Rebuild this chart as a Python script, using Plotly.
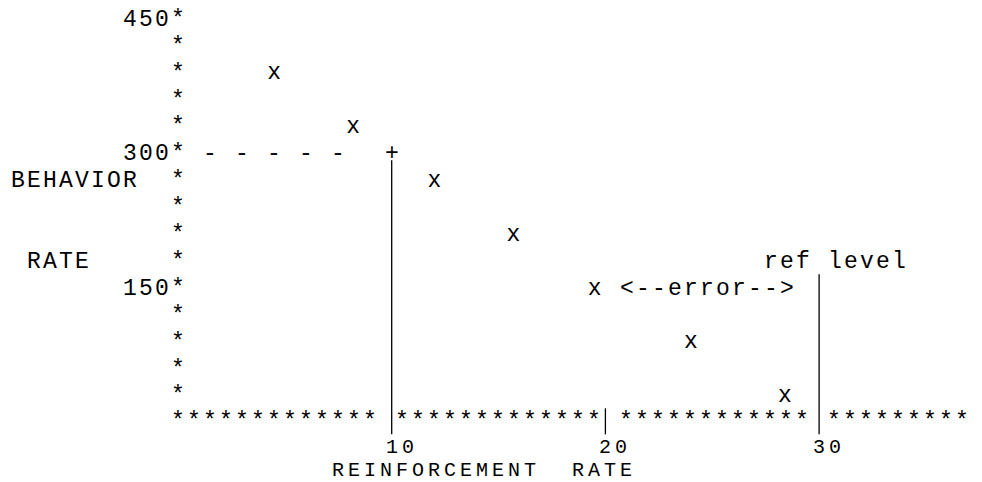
import plotly.graph_objects as go

# ---- data ----
reinforcement_rate = [4.5, 8.2, 12.0, 15.7, 19.5, 24.0, 28.4]
behavior_rate = [390, 330, 270, 210, 150, 90, 30]
x_tick_values = [10, 20, 30]
x_tick_labels = ["10", "20", "30"]
y_tick_values = [450, 300, 150]
y_tick_labels = ["450", "300", "150"]
y_row_step = 30
ref_rate = [10]          # "+" corner point
ref_behavior = [300]
level_rate = [30]        # "ref level" line
error_behavior = [150]   # row of the "<--error-->" note
x_title = "REINFORCEMENT  RATE"
y_title_lines = ["BEHAVIOR", "RATE"]

# ---- layout constants ----
W, H = 982, 482
PITCH = 16                       # character cell width, px
PX_PER_X = 21.37
X0_PX = 170.0                    # page is offset by the body margin
PX_PER_Y = 0.8967
Y450_PX = 11.8
UPP = 1 / PX_PER_Y               # y data units per pixel
X_RANGE = [-X0_PX / PX_PER_X, (W - X0_PX) / PX_PER_X]
Y_RANGE = [450 - (H - Y450_PX) / PX_PER_Y, 450 + Y450_PX / PX_PER_Y]
FONT = dict(family="Liberation Mono, Courier New, monospace", size=23, color="#000000")
SMALL = dict(FONT, size=20)

annotations = []


def run(s, x, y, first_px, yshift=0, font=FONT):
    """Place string s, one character per cell, first char centred first_px from (x, y)."""
    for i, ch in enumerate(s):
        if ch == " ":
            continue
        t = {"<": "&lt;", ">": "&gt;"}.get(ch, ch)
        annotations.append(dict(x=x, y=y, xref="x", yref="y", text=t, showarrow=False,
                                xanchor="center", yanchor="middle",
                                xshift=first_px + PITCH * i, yshift=yshift, font=font))


# y axis of asterisks
for yv in range(y_row_step, 451, y_row_step):
    run("*", 0, yv, 0)
# y tick labels
for yv, lab in zip(y_tick_values, y_tick_labels):
    run(lab, 0, yv, -PITCH * len(lab))
# y title
run(y_title_lines[0], 0, 270, -PITCH * 10)
run(y_title_lines[1], 0, 180, -PITCH * 9)

# x axis row of asterisks (columns counted from the y axis)
run("*" * 13, 0, 0, 0, yshift=1)
run("*" * 13, 0, 0, PITCH * 14, yshift=1)
run("*" * 12, 0, 0, PITCH * 28, yshift=1)
run("*" * 9, 0, 0, PITCH * 41, yshift=1)
# x tick labels
for xv, lab in zip(x_tick_values, x_tick_labels):
    run(lab, xv, -y_row_step, 0, yshift=3, font=SMALL)
# x title (sits near the bottom edge, as in the reference)
run(x_title, 0, -2 * y_row_step, PITCH * 10, yshift=7, font=SMALL)

# dashed guide to the "+" corner
run("- - - - -", 0, ref_behavior[0], PITCH * 2)
run("+", ref_rate[0], ref_behavior[0], 0)
# ref level and error note
run("ref level", level_rate[0], error_behavior[0] + y_row_step, -PITCH * 3)
run("<--error-->", level_rate[0], error_behavior[0], -PITCH * 12)

shapes = []
line = dict(color="#000000", width=1.3)
shapes.append(dict(type="line", xref="x", yref="y", x0=ref_rate[0], x1=ref_rate[0],
                   y0=ref_behavior[0] - 6 * UPP, y1=-11 * UPP, line=line))
shapes.append(dict(type="line", xref="x", yref="y", x0=level_rate[0], x1=level_rate[0],
                   y0=error_behavior[0] + 14.5 * UPP, y1=-11 * UPP, line=line))
shapes.append(dict(type="line", xref="x", yref="y", x0=x_tick_values[1], x1=x_tick_values[1],
                   y0=15 * UPP, y1=-11 * UPP, line=line))

fig = go.Figure()
fig.add_trace(go.Scatter(x=reinforcement_rate, y=behavior_rate, mode="text", text=["x"] * len(behavior_rate),
                         textposition="middle center", textfont=FONT, hoverinfo="skip"))
fig.update_layout(
    width=W, height=H, margin=dict(l=0, r=0, t=0, b=0),
    paper_bgcolor="white", plot_bgcolor="white", showlegend=False,
    xaxis=dict(range=X_RANGE, visible=False, fixedrange=True),
    yaxis=dict(range=Y_RANGE, visible=False, fixedrange=True),
    annotations=annotations, shapes=shapes,
)
fig.write_html("out.html")
